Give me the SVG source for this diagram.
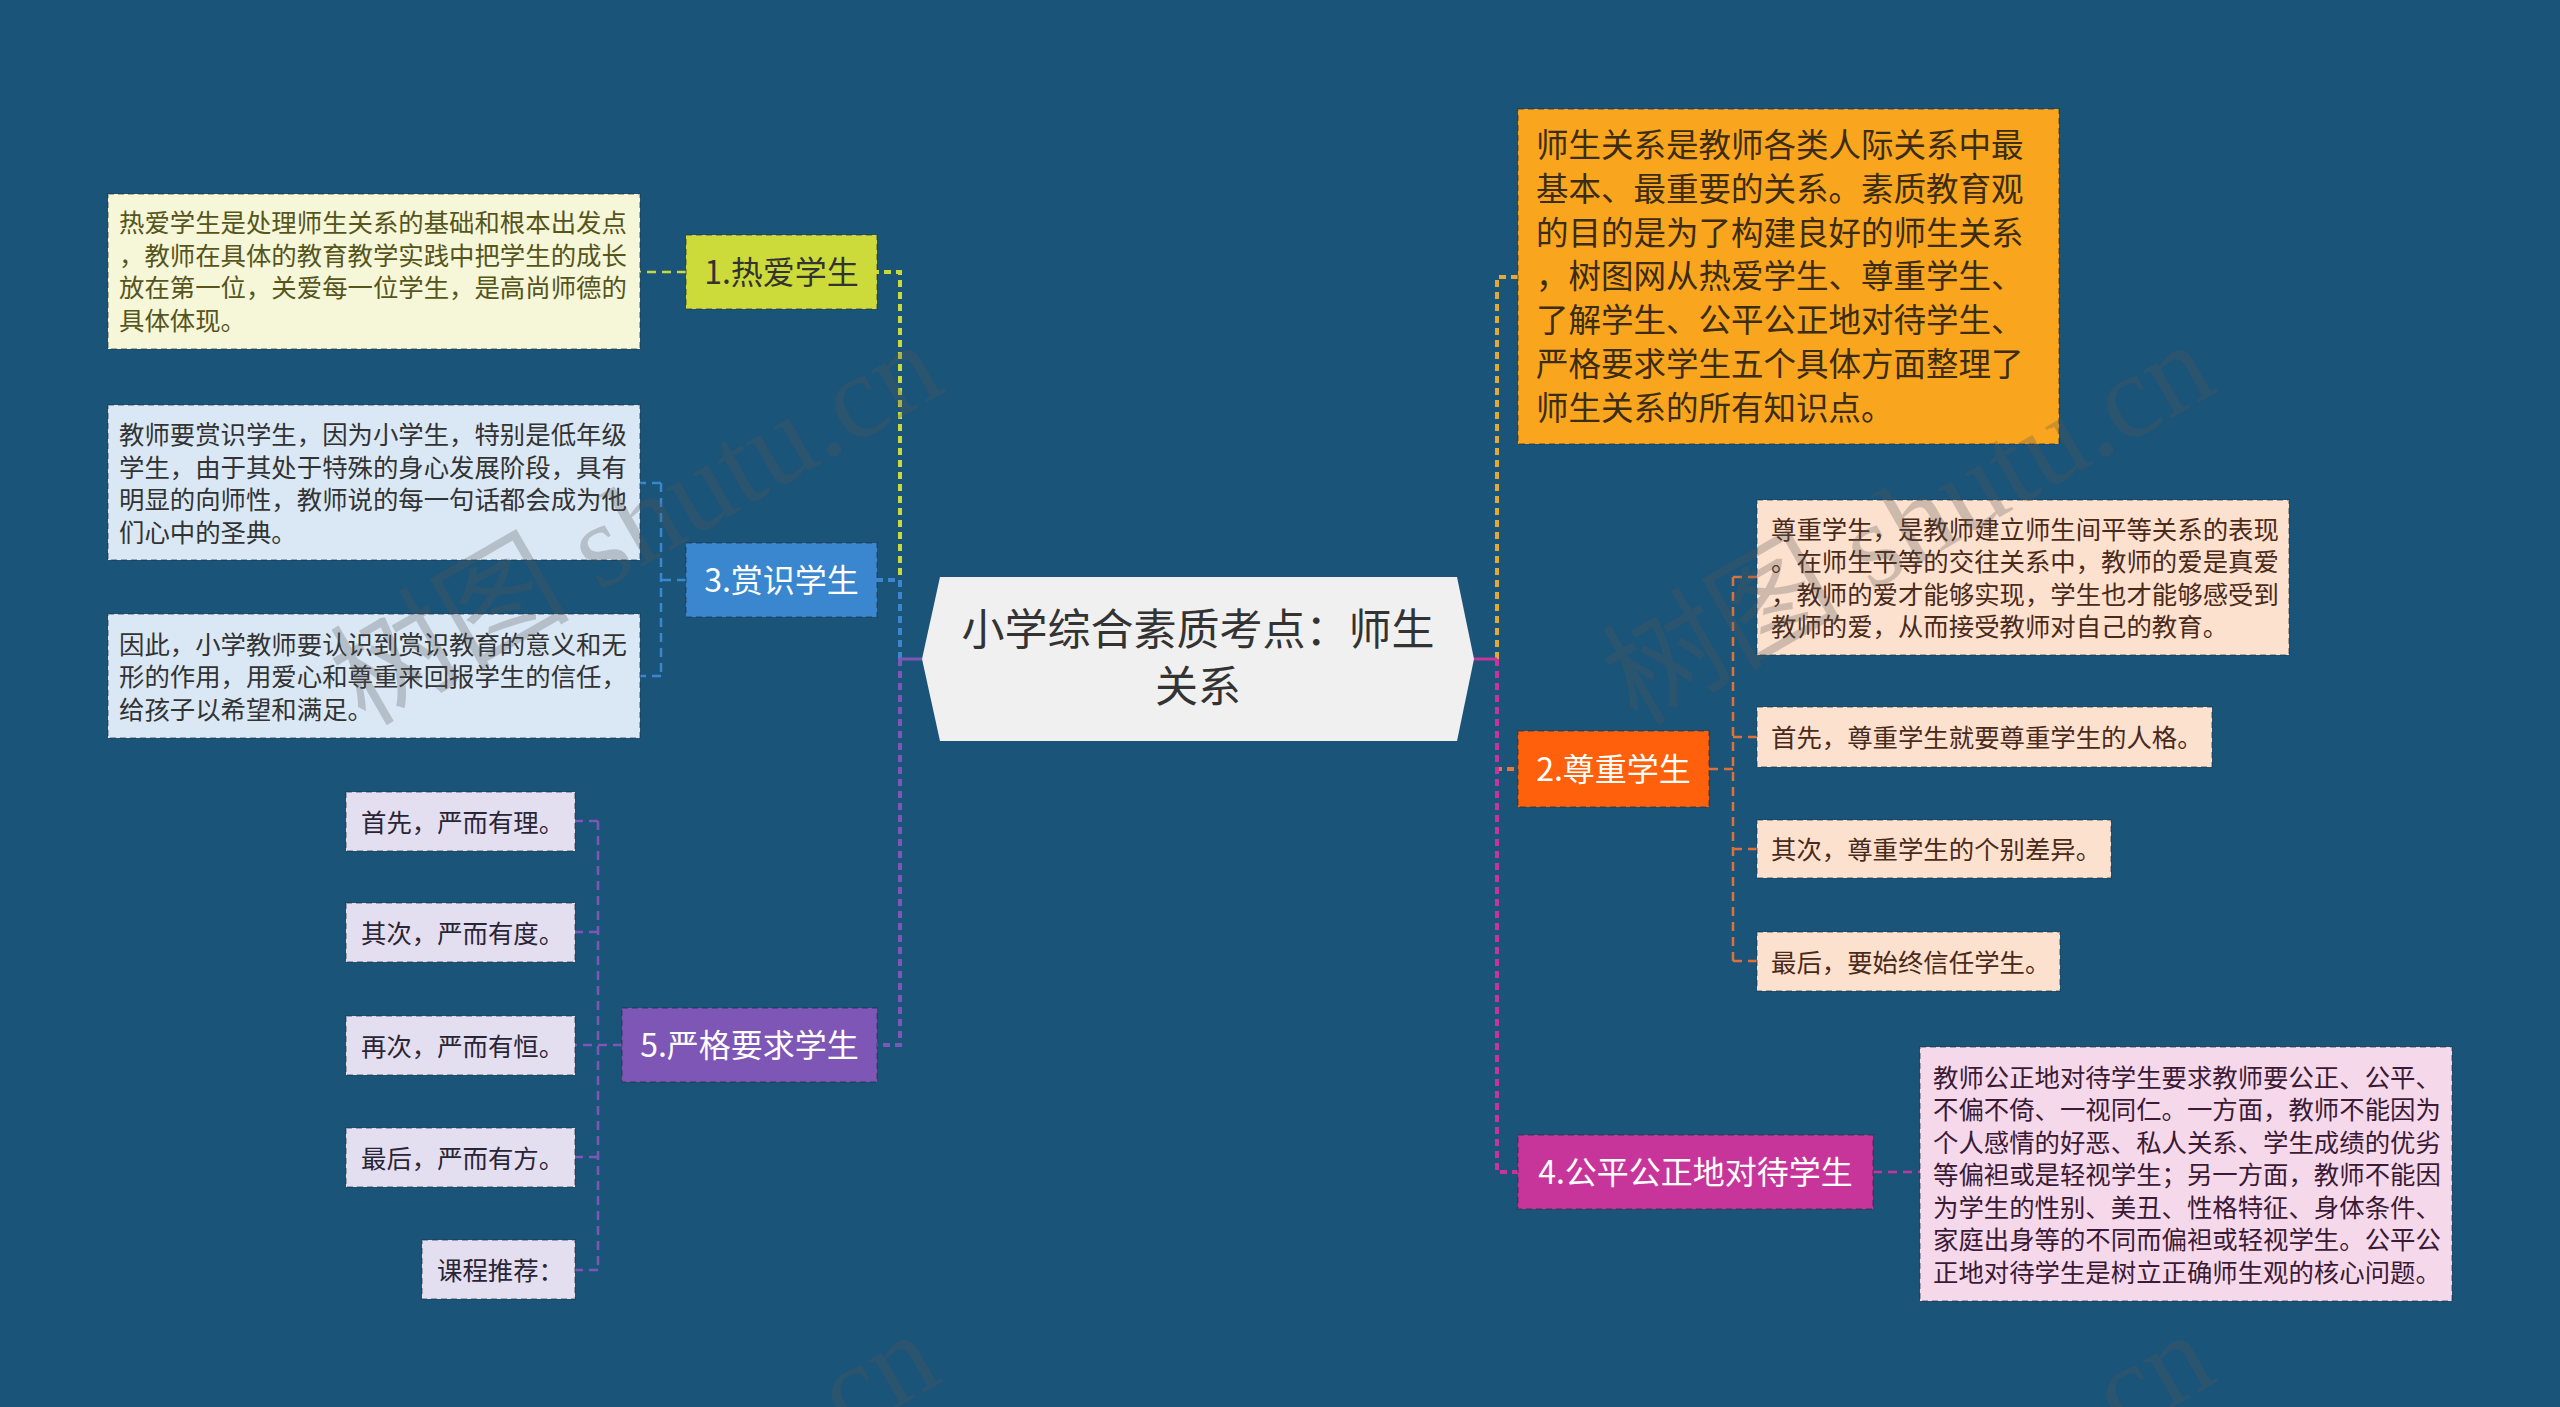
<svg xmlns="http://www.w3.org/2000/svg" width="2560" height="1407" viewBox="0 0 2560 1407">
<style>
text{font-family:"Noto Sans CJK SC","Microsoft YaHei",sans-serif;}
.bd{stroke:#1d2b3a;stroke-opacity:.35;stroke-width:2;stroke-dasharray:6 4;}
.t25{font-size:25.4px;}
.n32{font-size:32px;text-anchor:middle;}
.w{fill:#ffffff;}
.trunk{fill:none;stroke-width:4;stroke-dasharray:7 5;}
.sub{fill:none;stroke-width:2.5;stroke-dasharray:9 6;}
.wm{font-family:"Liberation Serif","Noto Sans CJK SC",serif;font-size:120px;fill:#555555;fill-opacity:.28;text-anchor:end;}
</style>
<rect width="2560" height="1407" fill="#1b5479"/>
<g id="connectors">
  <path class="trunk" stroke="#cbd83c" d="M900,659 V272 H877"/>
  <path class="trunk" stroke="#3a86cf" d="M900,659 V580 H877"/>
  <path class="trunk" stroke="#7e56b6" d="M900,659 V1045 H877"/>
  <path d="M922,659 H900" stroke="#7e56b6" stroke-width="3" fill="none"/>
  <path class="trunk" stroke="#e2a93b" d="M1497,659 V277 H1518"/>
  <path class="trunk" stroke="#f07436" d="M1497,659 V769 H1518"/>
  <path class="trunk" stroke="#c8359a" d="M1497,659 V1172 H1518"/>
  <path d="M1474,659 H1497" stroke="#c8359a" stroke-width="3" fill="none"/>
  <path class="sub" stroke="#cbd83c" d="M686,272 H640"/>
  <path class="sub" stroke="#3a86cf" d="M686,580 H661 M661,483 V676 M661,483 H640 M661,676 H640"/>
  <path class="sub" stroke="#7e56b6" d="M622,1045 H575 M598,821 V1270 M598,821 H575 M598,932 H575 M598,1157 H575 M598,1270 H575"/>
  <path class="sub" stroke="#e0703a" d="M1709,769 H1733 M1733,577 V962 M1733,577 H1757 M1733,737 H1757 M1733,849 H1757 M1733,961 H1757"/>
  <path class="sub" stroke="#c8359a" d="M1873,1172 H1920"/>
</g>
<g id="center">
  <polygon points="922,659 940,577 1457,577 1474,659 1457,741 940,741" fill="#f0f0f0"/>
  <text x="1198" y="645" font-size="43" text-anchor="middle" fill="#333333">小学综合素质考点：师生</text>
  <text x="1198" y="702" font-size="43" text-anchor="middle" fill="#333333">关系</text>
</g>
<g id="n1">
  <rect class="bd" x="686" y="235" width="191" height="74" fill="#cddb3a"/>
  <text class="n32" x="781.5" y="284" fill="#333333">1.热爱学生</text>
</g>
<g id="n1a">
  <rect class="bd" x="108" y="194" width="532" height="155" fill="#f6f6d8"/>
  <text class="t25" fill="#55551c"><tspan x="119" y="232">热爱学生是处理师生关系的基础和根本出发点</tspan><tspan x="119" y="264.5">，教师在具体的教育教学实践中把学生的成长</tspan><tspan x="119" y="297">放在第一位，关爱每一位学生，是高尚师德的</tspan><tspan x="119" y="329.5">具体体现。</tspan></text>
</g>
<g id="n3">
  <rect class="bd" x="686" y="543" width="191" height="74" fill="#3a86cf"/>
  <text class="n32 w" x="781.5" y="592">3.赏识学生</text>
</g>
<g id="n3a">
  <rect class="bd" x="108" y="405" width="532" height="155" fill="#dae8f6"/>
  <text class="t25" fill="#333333"><tspan x="119" y="444">教师要赏识学生，因为小学生，特别是低年级</tspan><tspan x="119" y="476.5">学生，由于其处于特殊的身心发展阶段，具有</tspan><tspan x="119" y="509">明显的向师性，教师说的每一句话都会成为他</tspan><tspan x="119" y="541.5">们心中的圣典。</tspan></text>
</g>
<g id="n3b">
  <rect class="bd" x="108" y="614" width="532" height="124" fill="#dae8f6"/>
  <text class="t25" fill="#333333"><tspan x="119" y="653.5">因此，小学教师要认识到赏识教育的意义和无</tspan><tspan x="119" y="686">形的作用，用爱心和尊重来回报学生的信任，</tspan><tspan x="119" y="718.5">给孩子以希望和满足。</tspan></text>
</g>
<g id="n5">
  <rect class="bd" x="622" y="1008" width="255" height="74" fill="#7e56b6"/>
  <text class="n32 w" x="749.5" y="1057">5.严格要求学生</text>
</g>
<g id="n5a">
  <rect class="bd" x="346" y="792" width="229" height="59" fill="#e4dff0"/>
  <text class="t25" x="361" y="831.5" fill="#2a2535">首先，严而有理。</text>
</g>
<g id="n5b">
  <rect class="bd" x="346" y="903" width="229" height="59" fill="#e4dff0"/>
  <text class="t25" x="361" y="942.5" fill="#2a2535">其次，严而有度。</text>
</g>
<g id="n5c">
  <rect class="bd" x="346" y="1016" width="229" height="59" fill="#e4dff0"/>
  <text class="t25" x="361" y="1055.5" fill="#2a2535">再次，严而有恒。</text>
</g>
<g id="n5d">
  <rect class="bd" x="346" y="1128" width="229" height="59" fill="#e4dff0"/>
  <text class="t25" x="361" y="1167.5" fill="#2a2535">最后，严而有方。</text>
</g>
<g id="n5e">
  <rect class="bd" x="422" y="1240" width="153" height="59" fill="#e4dff0"/>
  <text class="t25" x="437" y="1279.5" fill="#2a2535">课程推荐：</text>
</g>
<g id="intro">
  <rect class="bd" x="1518" y="109" width="541" height="335" fill="#f9a51e"/>
  <text font-size="32.5" fill="#3b2c12"><tspan x="1536" y="157">师生关系是教师各类人际关系中最</tspan><tspan x="1536" y="200.8">基本、最重要的关系。素质教育观</tspan><tspan x="1536" y="244.6">的目的是为了构建良好的师生关系</tspan><tspan x="1536" y="288.4">，树图网从热爱学生、尊重学生、</tspan><tspan x="1536" y="332.2">了解学生、公平公正地对待学生、</tspan><tspan x="1536" y="376">严格要求学生五个具体方面整理了</tspan><tspan x="1536" y="419.8">师生关系的所有知识点。</tspan></text>
</g>
<g id="n2">
  <rect class="bd" x="1518" y="731" width="191" height="76" fill="#fe600c"/>
  <text class="n32 w" x="1613.5" y="781">2.尊重学生</text>
</g>
<g id="n2a">
  <rect class="bd" x="1757" y="500" width="532" height="155" fill="#fde1cf"/>
  <text class="t25" fill="#4a2a1a"><tspan x="1771" y="538.75">尊重学生，是教师建立师生间平等关系的表现</tspan><tspan x="1771" y="571.25">。在师生平等的交往关系中，教师的爱是真爱</tspan><tspan x="1771" y="603.75">，教师的爱才能够实现，学生也才能够感受到</tspan><tspan x="1771" y="636.25">教师的爱，从而接受教师对自己的教育。</tspan></text>
</g>
<g id="n2b">
  <rect class="bd" x="1757" y="707" width="455" height="60" fill="#fde1cf"/>
  <text class="t25" x="1771" y="747" fill="#4a2a1a">首先，尊重学生就要尊重学生的人格。</text>
</g>
<g id="n2c">
  <rect class="bd" x="1757" y="820" width="354" height="58" fill="#fde1cf"/>
  <text class="t25" x="1771" y="859" fill="#4a2a1a">其次，尊重学生的个别差异。</text>
</g>
<g id="n2d">
  <rect class="bd" x="1757" y="932" width="303" height="59" fill="#fde1cf"/>
  <text class="t25" x="1771" y="971.5" fill="#4a2a1a">最后，要始终信任学生。</text>
</g>
<g id="n4">
  <rect class="bd" x="1518" y="1135" width="355" height="74" fill="#c8359a"/>
  <text class="n32 w" x="1695.5" y="1184">4.公平公正地对待学生</text>
</g>
<g id="n4a">
  <rect class="bd" x="1920" y="1047" width="532" height="254" fill="#f6d8eb"/>
  <text class="t25" fill="#3a1a35"><tspan x="1933" y="1086.5">教师公正地对待学生要求教师要公正、公平、</tspan><tspan x="1933" y="1119">不偏不倚、一视同仁。一方面，教师不能因为</tspan><tspan x="1933" y="1151.5">个人感情的好恶、私人关系、学生成绩的优劣</tspan><tspan x="1933" y="1184">等偏袒或是轻视学生；另一方面，教师不能因</tspan><tspan x="1933" y="1216.5">为学生的性别、美丑、性格特征、身体条件、</tspan><tspan x="1933" y="1249">家庭出身等的不同而偏袒或轻视学生。公平公</tspan><tspan x="1933" y="1281.5">正地对待学生是树立正确师生观的核心问题。</tspan></text>
</g>
<g id="watermarks">
  <text class="wm" x="948" y="390" transform="rotate(-30 948 390)">树图 shutu.cn</text>
  <text class="wm" x="2220" y="390" transform="rotate(-30 2220 390)">树图 shutu.cn</text>
  <text class="wm" x="945" y="1380" transform="rotate(-30 945 1380)">树图 shutu.cn</text>
  <text class="wm" x="2220" y="1380" transform="rotate(-30 2220 1380)">树图 shutu.cn</text>
</g>
</svg>
